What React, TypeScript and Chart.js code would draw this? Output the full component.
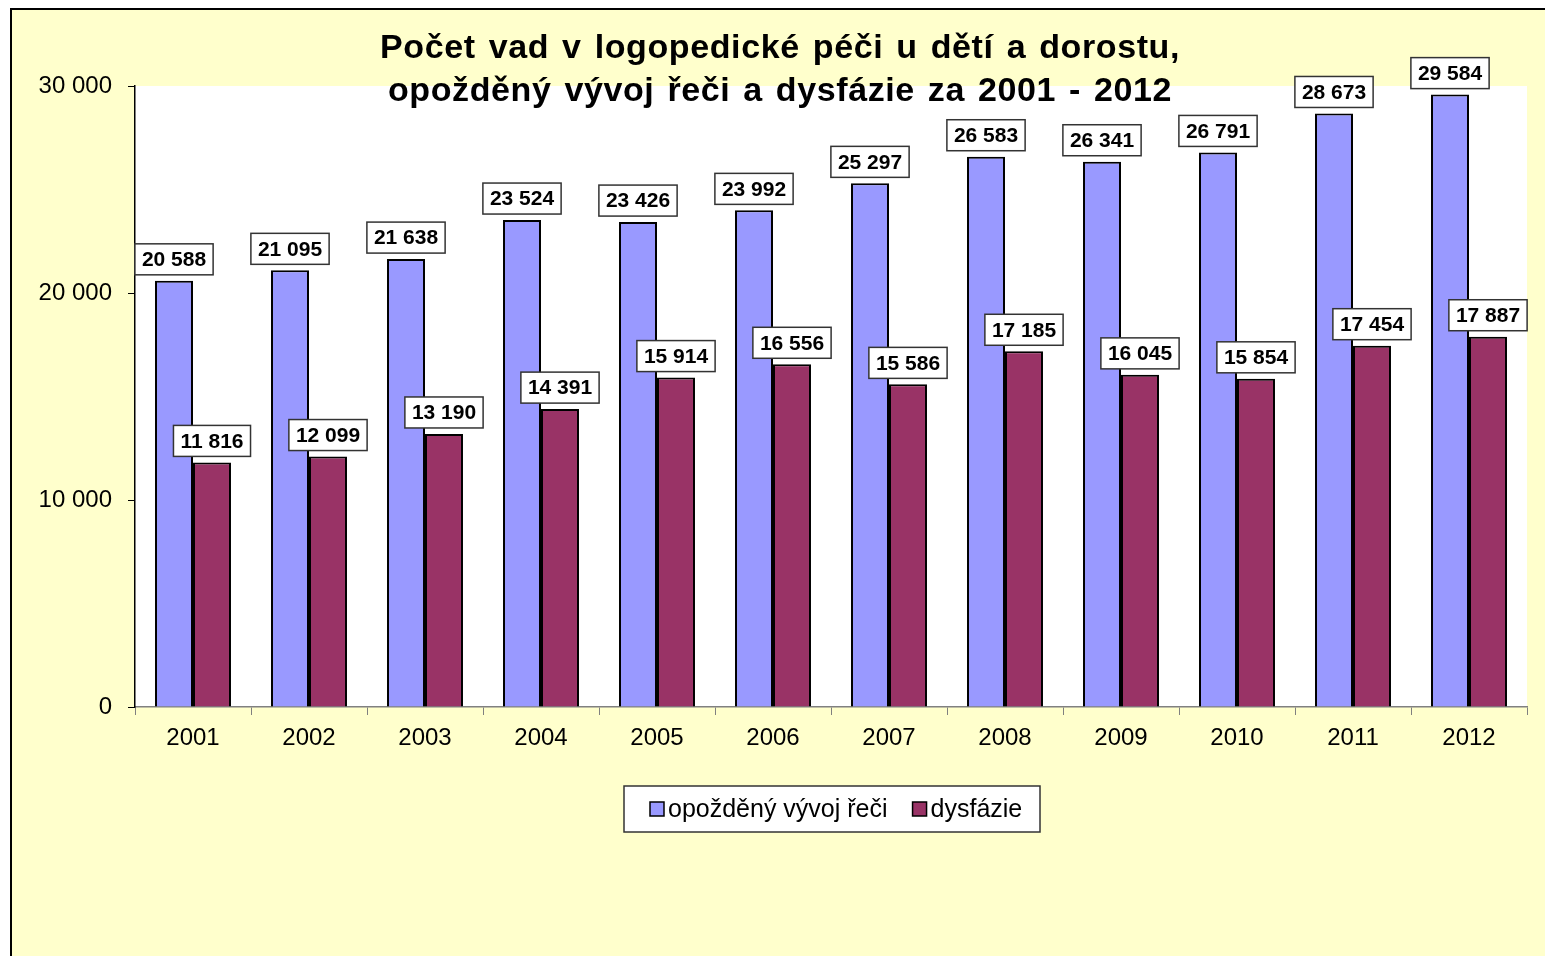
import React, { useEffect, useRef } from "react";
import { Chart, registerables } from "chart.js";

Chart.register(...registerables);

const years = ["2001", "2002", "2003", "2004", "2005", "2006", "2007", "2008", "2009", "2010", "2011", "2012"];
const delayedSpeech = [20588, 21095, 21638, 23524, 23426, 23992, 25297, 26583, 26341, 26791, 28673, 29584];
const dysphasia = [11816, 12099, 13190, 14391, 15914, 16556, 15586, 17185, 16045, 15854, 17454, 17887];
const seriesNames = ["opožděný vývoj řeči", "dysfázie"];
const yTicks = [0, 10000, 20000, 30000];
const titleLines = ["Počet vad v logopedické péči u dětí a dorostu,", "opožděný vývoj řeči a dysfázie za 2001 - 2012"];

const BLUE = "#9999FF";
const RED = "#993366";
const FONT = "'Liberation Sans', Arial, sans-serif";

const fmt = (v: number) => {
  const s = Math.round(v).toString();
  return s.replace(/\B(?=(\d{3})+(?!\d))/g, " ");
};

const bgPlugin = {
  id: "bg",
  beforeDraw(chart: any) {
    const { ctx, width, height, chartArea } = chart;
    ctx.save();
    ctx.fillStyle = "#FFFFFF";
    ctx.fillRect(0, 0, width, height);
    ctx.fillStyle = "#FFFFCC";
    ctx.fillRect(10, 8, width - 10, height - 8);
    ctx.strokeStyle = "#000";
    ctx.lineWidth = 2;
    ctx.beginPath();
    ctx.moveTo(11, height);
    ctx.lineTo(11, 9);
    ctx.lineTo(width, 9);
    ctx.stroke();
    ctx.fillStyle = "#FFFFFF";
    ctx.fillRect(chartArea.left, chartArea.top, chartArea.right - chartArea.left, chartArea.bottom - chartArea.top);
    ctx.restore();
  },
};

const labelPlugin = {
  id: "valueLabels",
  afterDatasetsDraw(chart: any) {
    const { ctx } = chart;
    ctx.save();
    ctx.font = `bold 21px ${FONT}`;
    ctx.textAlign = "center";
    ctx.textBaseline = "middle";
    chart.data.datasets.forEach((ds: any, i: number) => {
      const meta = chart.getDatasetMeta(i);
      meta.data.forEach((el: any, j: number) => {
        const text = fmt(ds.data[j]);
        const w = ctx.measureText(text).width + 14;
        const h = 31;
        const bx = el.x - w / 2;
        const by = el.y - 6 - h;
        ctx.fillStyle = "#FFFFFF";
        ctx.fillRect(bx, by, w, h);
        ctx.strokeStyle = "#333";
        ctx.lineWidth = 1.5;
        ctx.strokeRect(bx, by, w, h);
        ctx.fillStyle = "#000";
        ctx.fillText(text, el.x, by + h / 2 + 1);
      });
    });
    ctx.restore();
  },
};

const drawFitted = (ctx: any, text: string, cx: number, y: number, target: number) => {
  const parts = text.split(" ");
  const widths = parts.map((p) => ctx.measureText(p).width);
  const total = widths.reduce((a, b) => a + b, 0);
  const gap = (target - total) / (parts.length - 1);
  let x = cx - target / 2;
  ctx.textAlign = "left";
  parts.forEach((p, i) => {
    ctx.fillText(p, x, y);
    x += widths[i] + gap;
  });
};

const titlePlugin = {
  id: "customTitle",
  afterDraw(chart: any) {
    const { ctx } = chart;
    ctx.save();
    ctx.font = `bold 34px ${FONT}`;
    try { (ctx as any).letterSpacing = "0.6px"; } catch (e) {}
    ctx.textBaseline = "alphabetic";
    ctx.fillStyle = "#000";
    drawFitted(ctx, titleLines[0], 780, 58, 800);
    drawFitted(ctx, titleLines[1], 780, 101, 784);
    ctx.restore();
  },
};

const legendPlugin = {
  id: "customLegend",
  afterDraw(chart: any) {
    const { ctx } = chart;
    ctx.save();
    const bx = 624, by = 786, bw = 416, bh = 46;
    ctx.fillStyle = "#FFFFFF";
    ctx.fillRect(bx, by, bw, bh);
    ctx.strokeStyle = "#333";
    ctx.lineWidth = 1.5;
    ctx.strokeRect(bx, by, bw, bh);
    ctx.font = `25px ${FONT}`;
    ctx.textBaseline = "middle";
    ctx.textAlign = "left";
    const cy = by + bh / 2;
    const colors = [BLUE, RED];
    let x = 650;
    seriesNames.forEach((name, i) => {
      ctx.fillStyle = colors[i];
      ctx.fillRect(x, cy - 7, 14, 14);
      ctx.strokeStyle = "#000";
      ctx.lineWidth = 1.5;
      ctx.strokeRect(x, cy - 7, 14, 14);
      ctx.fillStyle = "#000";
      ctx.fillText(name, x + 18, cy + 1);
      x += 18 + ctx.measureText(name).width + 25;
    });
    ctx.restore();
  },
};

export default function App() {
  const ref = useRef<HTMLCanvasElement | null>(null);
  useEffect(() => {
    if (!ref.current) return;
    const chart = new Chart(ref.current, {
      type: "bar",
      data: {
        labels: years,
        datasets: [
          { label: seriesNames[0], data: delayedSpeech, backgroundColor: BLUE, borderColor: "#000", borderWidth: 2, categoryPercentage: 0.655, barPercentage: 1 },
          { label: seriesNames[1], data: dysphasia, backgroundColor: RED, borderColor: "#000", borderWidth: 2, categoryPercentage: 0.655, barPercentage: 1 },
        ],
      },
      options: {
        responsive: false,
        animation: false,
        layout: { padding: { left: 0, top: 86, right: 18, bottom: 189 } },
        plugins: { legend: { display: false }, title: { display: false }, tooltip: { enabled: false } },
        scales: {
          x: {
            grid: { display: true, drawOnChartArea: false, drawTicks: true, tickLength: 8, color: "#808080", offset: true },
            border: { display: true, color: "#808080", width: 1.5 },
            ticks: { font: { family: FONT, size: 24 }, color: "#000", padding: 9 },
            afterFit: (s: any) => { s.height = 60; },
          },
          y: {
            min: 0,
            max: 30000,
            afterBuildTicks: (s: any) => { s.ticks = yTicks.map((v) => ({ value: v })); },
            ticks: { font: { family: FONT, size: 24 }, color: "#000", padding: 16, callback: (v: any) => fmt(Number(v)) },
            grid: { display: true, drawOnChartArea: false, drawTicks: true, tickLength: 7, color: "#000" },
            border: { display: true, color: "#000", width: 1.5 },
            afterFit: (s: any) => { s.width = 135; },
          },
        },
      },
      plugins: [bgPlugin, labelPlugin, titlePlugin, legendPlugin],
    });
    return () => chart.destroy();
  }, []);
  return (
    <div style={{ position: "fixed", left: 0, top: 0, width: 1545, height: 956 }}>
      <canvas ref={ref} width={1545} height={956} style={{ display: "block" }} />
    </div>
  );
}
